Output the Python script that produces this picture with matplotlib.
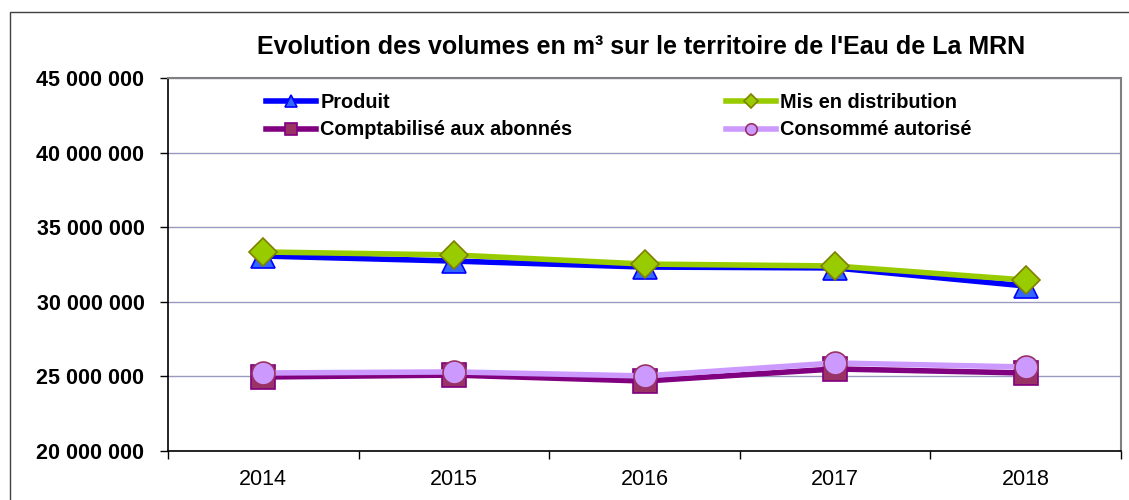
import matplotlib.pyplot as plt
from matplotlib.patches import Rectangle
from matplotlib.ticker import FixedLocator, NullFormatter

plt.rcParams["font.family"] = ["Liberation Sans", "DejaVu Sans"]

years = ["2014", "2015", "2016", "2017", "2018"]
produit = [33.07e6, 32.73e6, 32.33e6, 32.27e6, 31.06e6]
mis_en_distribution = [33.34e6, 33.14e6, 32.53e6, 32.40e6, 31.46e6]
comptabilise = [24.96e6, 25.09e6, 24.69e6, 25.50e6, 25.23e6]
consomme = [25.23e6, 25.30e6, 25.03e6, 25.90e6, 25.63e6]
y_ticks = [20e6, 25e6, 30e6, 35e6, 40e6, 45e6]
y_labels = ["20 000 000", "25 000 000", "30 000 000", "35 000 000", "40 000 000", "45 000 000"]

fig = plt.figure(figsize=(11.29, 5.0), dpi=100)
ax = fig.add_axes([168 / 1129, 49 / 500, (1121 - 168) / 1129, (451 - 78) / 500])

# outer chart frame
fig.patches.append(Rectangle((10 / 1129, -0.1), 1.1, 1.1 - 12 / 500,
                             transform=fig.transFigure, fill=False,
                             edgecolor="#404040", lw=1.0))

x = list(range(len(years)))
l1, = ax.plot(x, produit, color="#0000ff", lw=4, marker="^", ms=17,
              mfc="#3366ff", mec="#0000ff", mew=1.2, label="Produit", zorder=3)
l2, = ax.plot(x, mis_en_distribution, color="#99cc00", lw=4, marker="D", ms=14,
              mfc="#99cc00", mec="#808000", mew=1.2, label="Mis en distribution", zorder=4)
l3, = ax.plot(x, comptabilise, color="#800080", lw=4, marker="s", ms=17,
              mfc="#993366", mec="#800080", mew=1.2, label="Comptabilisé aux abonnés", zorder=3)
l4, = ax.plot(x, consomme, color="#cc99ff", lw=4, marker="o", ms=16.5,
              mfc="#cc99ff", mec="#993366", mew=1.2, label="Consommé autorisé", zorder=4)

ax.set_xlim(-0.5, len(years) - 0.5)
ax.set_ylim(20e6, 45e6)
ax.set_yticks(y_ticks)
ax.set_yticklabels(y_labels, fontweight="bold", fontsize=15.5)
ax.yaxis.grid(True, color="#9a9ac0", lw=1.0)
ax.set_axisbelow(True)

ax.xaxis.set_major_locator(FixedLocator([i - 0.5 for i in range(len(years) + 1)]))
ax.xaxis.set_major_formatter(NullFormatter())
ax.xaxis.set_minor_locator(FixedLocator(x))
ax.set_xticklabels(years, minor=True, fontsize=15.5)
ax.tick_params(axis="x", which="minor", length=0, pad=13)
ax.tick_params(axis="x", which="major", length=6, width=1, direction="out")
ax.tick_params(axis="y", length=6, width=1, direction="out", pad=11)

for s in ["left", "bottom"]:
    ax.spines[s].set_color("#000000")
    ax.spines[s].set_linewidth(1.2)
for s in ["top", "right"]:
    ax.spines[s].set_color("#808080")
    ax.spines[s].set_linewidth(1.5)

fig.text(0.568, 0.906, "Evolution des volumes en m³ sur le territoire de l'Eau de La MRN",
         ha="center", va="center", fontsize=18, fontweight="bold")

leg = ax.legend(handles=[l1, l3, l2, l4], ncol=2, loc="upper left",
                bbox_to_anchor=(0.103, 0.961), frameon=False, borderpad=0,
                borderaxespad=0, prop={"weight": "bold", "size": 14.3},
                handlelength=2.5, columnspacing=7.75, handletextpad=0.22,
                labelspacing=0.45, markerscale=0.5)

fig.savefig("out.png", dpi=100)
